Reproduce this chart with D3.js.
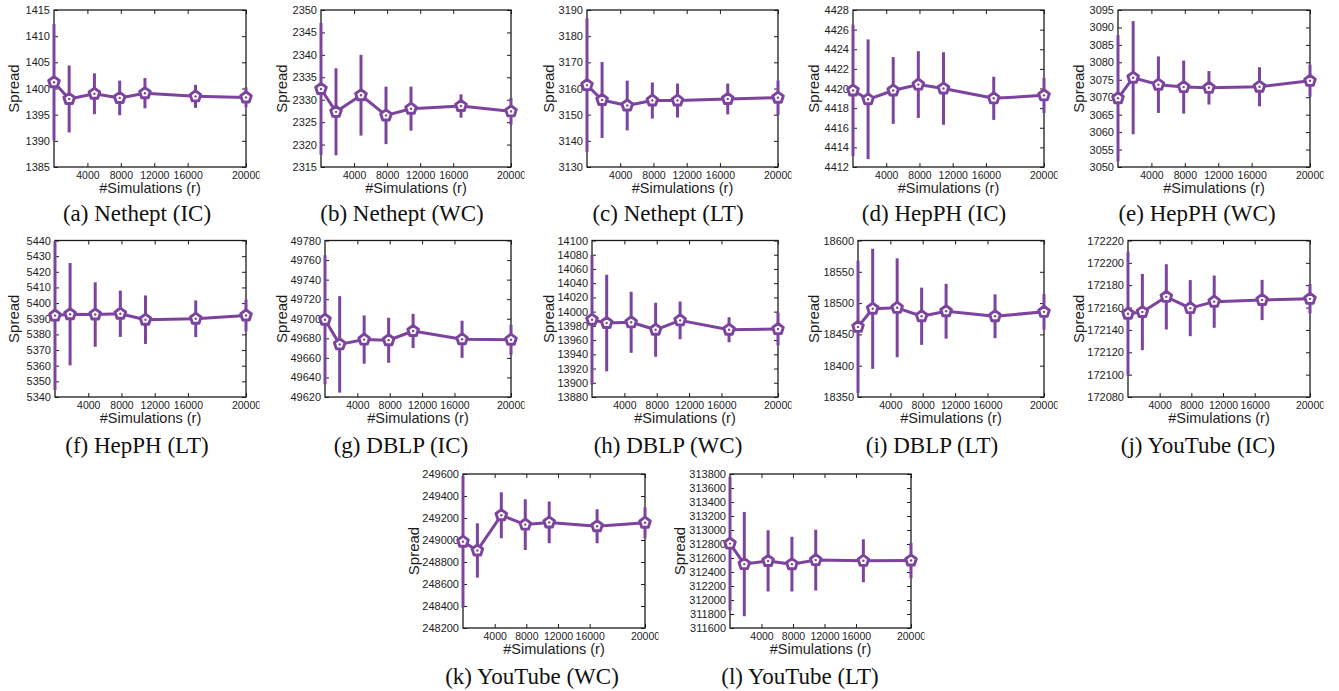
<!DOCTYPE html>
<html>
<head>
<meta charset="utf-8">
<script src="https://cdn.jsdelivr.net/npm/d3@7"></script>
<style>
  body { margin: 0; background: #fff; }
  svg { display: block; }
</style>
</head>
<body>
<svg id="fig" width="1339" height="691"></svg>
<script>
// Number of Monte-Carlo simulations (r) on the x axis
const simulations = [1000, 2500, 5000, 7500, 10000, 15000, 20000];
const xTickValues = [4000, 8000, 12000, 16000, 20000];

const captions = [
  "(a) Nethept (IC)", "(b) Nethept (WC)", "(c) Nethept (LT)", "(d) HepPH (IC)", "(e) HepPH (WC)",
  "(f) HepPH (LT)", "(g) DBLP (IC)", "(h) DBLP (WC)", "(i) DBLP (LT)", "(j) YouTube (IC)",
  "(k) YouTube (WC)", "(l) YouTube (LT)"
];

// Mean spread and its error (half-width of the bar) for each dataset / model
const spreadNetheptIC = [1401.2, 1398.0, 1399.0, 1398.2, 1399.1, 1398.5, 1398.3];
const errNetheptIC    = [11.1, 6.4, 3.9, 3.3, 2.9, 2.2, 1.9];
const spreadNetheptWC = [2332.4, 2327.3, 2331.0, 2326.5, 2328.0, 2328.6, 2327.4];
const errNetheptWC    = [14.7, 9.7, 9.0, 6.4, 4.9, 2.6, 3.0];
const spreadNetheptLT = [3161.3, 3155.6, 3153.5, 3155.4, 3155.4, 3156.0, 3156.5];
const errNetheptLT    = [25.5, 14.5, 9.5, 6.9, 6.5, 5.9, 6.6];
const spreadHepPHIC   = [4419.8, 4418.9, 4419.8, 4420.4, 4420.0, 4419.0, 4419.3];
const errHepPHIC      = [6.7, 6.1, 3.4, 3.4, 3.7, 2.2, 1.8];
const spreadHepPHWC   = [3069.7, 3075.6, 3073.6, 3072.9, 3072.7, 3073.0, 3074.7];
const errHepPHWC      = [18.1, 16.2, 8.1, 7.6, 4.8, 5.6, 4.6];
const spreadHepPHLT   = [5392.0, 5392.9, 5392.7, 5393.2, 5389.4, 5390.0, 5392.1];
const errHepPHLT      = [47.5, 32.7, 20.6, 14.8, 15.5, 11.7, 10.1];
const spreadDBLPIC    = [49699.0, 49673.8, 49678.7, 49678.0, 49687.5, 49679.0, 49678.5];
const errDBLPIC       = [65.9, 49.3, 24.7, 23.0, 17.5, 19.0, 15.3];
const spreadDBLPWC    = [13988.6, 13984.0, 13985.0, 13974.5, 13987.7, 13974.5, 13975.5];
const errDBLPWC       = [91.3, 67.9, 42.9, 38.0, 26.5, 17.6, 23.0];
const spreadDBLPLT    = [18462, 18491, 18492.5, 18479, 18487, 18479, 18486];
const errDBLPLT       = [105.6, 96.0, 79.0, 45.7, 43.8, 35.0, 28.5];
const spreadYouTubeIC = [172154.5, 172156, 172169.6, 172159.5, 172165.3, 172166.8, 172167.8];
const errYouTubeIC    = [55.4, 34.1, 29.2, 25.1, 23.4, 18.0, 13.2];
const spreadYouTubeWC = [248985, 248905, 249225, 249140, 249160, 249125, 249157];
const errYouTubeWC    = [600, 247, 209, 230, 189, 154, 141];
const spreadYouTubeLT = [312806, 312513, 312558, 312512, 312570, 312560, 312565];
const errYouTubeLT    = [955, 745, 437, 390, 435, 307, 253];

// Y axis ranges and tick steps, one per panel
const yMin  = [1385, 2315, 3130, 4412, 3050, 5340, 49620, 13880, 18350, 172080, 248200, 311600];
const yMax  = [1415, 2350, 3190, 4428, 3095, 5440, 49780, 14100, 18600, 172220, 249600, 313800];
const yStep = [5, 5, 10, 2, 5, 10, 20, 20, 50, 20, 200, 200];

const spreads = [spreadNetheptIC, spreadNetheptWC, spreadNetheptLT, spreadHepPHIC, spreadHepPHWC,
  spreadHepPHLT, spreadDBLPIC, spreadDBLPWC, spreadDBLPLT, spreadYouTubeIC, spreadYouTubeWC, spreadYouTubeLT];
const errors = [errNetheptIC, errNetheptWC, errNetheptLT, errHepPHIC, errHepPHWC,
  errHepPHLT, errDBLPIC, errDBLPWC, errDBLPLT, errYouTubeIC, errYouTubeWC, errYouTubeLT];

// Panel geometry: origin x, plot frame (left/right/top/bottom), caption centre and baseline
const rowBox = [
  { ft: 10, fb: 167, cy: 221 },
  { ft: 240.5, fb: 397, cy: 453 },
  { ft: 474, fb: 628, cy: 684 }
];
const layout = [
  { ox: 0,    fl: 54,   fr: 246,  cx: 137,  row: 0 },
  { ox: 268,  fl: 321,  fr: 511,  cx: 402,  row: 0 },
  { ox: 535,  fl: 587,  fr: 778,  cx: 668,  row: 0 },
  { ox: 800,  fl: 853,  fr: 1044, cx: 934,  row: 0 },
  { ox: 1065, fl: 1118, fr: 1310, cx: 1197, row: 0 },
  { ox: 0,    fl: 55,   fr: 246,  cx: 137,  row: 1 },
  { ox: 268,  fl: 325,  fr: 511,  cx: 401,  row: 1 },
  { ox: 535,  fl: 592,  fr: 778,  cx: 668,  row: 1 },
  { ox: 800,  fl: 858,  fr: 1044, cx: 932,  row: 1 },
  { ox: 1065, fl: 1128, fr: 1310, cx: 1198, row: 1 },
  { ox: 400,  fl: 463,  fr: 645,  cx: 532,  row: 2 },
  { ox: 666,  fl: 730,  fr: 911,  cx: 800,  row: 2 }
];

const PURPLE = "#7c449f";
const INK = "#1c1c1c";
const SANS = "'Liberation Sans', Arial, Helvetica, sans-serif";
const SERIF = "'Liberation Serif', 'Times New Roman', Times, serif";

// Open pentagon marker
const pentagon = {
  draw(ctx, size) {
    const r = Math.sqrt(size);
    for (let k = 0; k < 5; k++) {
      const a = -Math.PI / 2 + k * 2 * Math.PI / 5;
      const px = r * Math.cos(a), py = r * Math.sin(a);
      if (k === 0) ctx.moveTo(px, py); else ctx.lineTo(px, py);
    }
    ctx.closePath();
  }
};
const marker = d3.symbol().type(pentagon).size(5.6 * 5.6);

const svg = d3.select("#fig");
const defs = svg.append("defs");

layout.forEach((L, i) => {
  const R = rowBox[L.row];
  const ft = R.ft, fb = R.fb;

  const x = d3.scaleLinear().domain([simulations[0], simulations[simulations.length - 1]]).range([L.fl, L.fr]);
  const y = d3.scaleLinear().domain([yMin[i], yMax[i]]).range([fb, ft]);
  // tick placement along the x axis
  const xt = d3.scaleLinear().domain([0, 16000, 20000]).range([L.fl, L.fl + 0.696 * (L.fr - L.fl), L.fr]);
  const yTicks = d3.range(yMin[i], yMax[i] + yStep[i] / 2, yStep[i]);

  defs.append("clipPath").attr("id", "clip" + i)
    .append("rect").attr("x", L.ox - 5).attr("y", ft - 20)
    .attr("width", L.fr + 13.5 - (L.ox - 5)).attr("height", fb - ft + 60);

  const g = svg.append("g").attr("clip-path", `url(#clip${i})`);

  // left axis with labels, right mirror ticks
  const yl = g.append("g").attr("transform", `translate(${L.fl},0)`)
    .call(d3.axisLeft(y).tickValues(yTicks).tickSize(-4).tickPadding(4).tickFormat(d3.format("d")));
  const yr = g.append("g").attr("transform", `translate(${L.fr},0)`)
    .call(d3.axisRight(y).tickValues(yTicks).tickSize(-4).tickFormat(""));
  // bottom axis with labels, top mirror ticks
  const xb = g.append("g").attr("transform", `translate(0,${fb})`)
    .call(d3.axisBottom(xt).tickValues(xTickValues).tickSize(-4).tickPadding(4.5).tickFormat(d3.format("d")));
  const xtp = g.append("g").attr("transform", `translate(0,${ft})`)
    .call(d3.axisTop(xt).tickValues(xTickValues).tickSize(-4).tickFormat(""));

  [yl, yr, xb, xtp].forEach(a => {
    a.select(".domain").remove();
    a.selectAll(".tick line").attr("stroke", INK).attr("stroke-width", 1);
    a.attr("font-family", SANS);
    a.selectAll(".tick text").attr("fill", INK);
  });
  yl.attr("font-size", 11);
  xb.attr("font-size", 10.5);

  // plot frame
  g.append("rect").attr("x", L.fl).attr("y", ft)
    .attr("width", L.fr - L.fl).attr("height", fb - ft)
    .attr("fill", "none").attr("stroke", INK).attr("stroke-width", 1.3);

  const pts = simulations.map((r, k) => ({ r, m: spreads[i][k], e: errors[i][k] }));

  // error bars
  g.selectAll(".err").data(pts).enter().append("line")
    .attr("x1", d => x(d.r)).attr("x2", d => x(d.r))
    .attr("y1", d => y(d.m - d.e)).attr("y2", d => y(d.m + d.e))
    .attr("stroke", PURPLE).attr("stroke-width", 3);

  // connecting line
  g.append("path").datum(pts)
    .attr("d", d3.line().x(d => x(d.r)).y(d => y(d.m)))
    .attr("fill", "none").attr("stroke", PURPLE).attr("stroke-width", 3)
    .attr("stroke-linejoin", "round");

  // markers
  g.selectAll(".mk").data(pts).enter().append("path")
    .attr("transform", d => `translate(${x(d.r)},${y(d.m)})`)
    .attr("d", marker)
    .attr("fill", "#fff").attr("stroke", PURPLE).attr("stroke-width", 2.9)
    .attr("stroke-linejoin", "round");
  g.selectAll(".dot").data(pts).enter().append("circle")
    .attr("cx", d => x(d.r)).attr("cy", d => y(d.m)).attr("r", 1.2)
    .attr("fill", PURPLE);

  // axis titles
  g.append("text")
    .attr("transform", `translate(${L.ox + 19},${(ft + fb) / 2}) rotate(-90)`)
    .attr("text-anchor", "middle").attr("font-family", SANS).attr("font-size", 15)
    .attr("fill", INK).text("Spread");
  g.append("text")
    .attr("x", (L.fl + L.fr) / 2).attr("y", fb + 26)
    .attr("text-anchor", "middle").attr("font-family", SANS).attr("font-size", 14.5)
    .attr("fill", INK).text("#Simulations (r)");

  // caption
  svg.append("text")
    .attr("x", L.cx).attr("y", R.cy)
    .attr("text-anchor", "middle").attr("font-family", SERIF).attr("font-size", 23)
    .attr("fill", "#111").text(captions[i]);
});
</script>
</body>
</html>
